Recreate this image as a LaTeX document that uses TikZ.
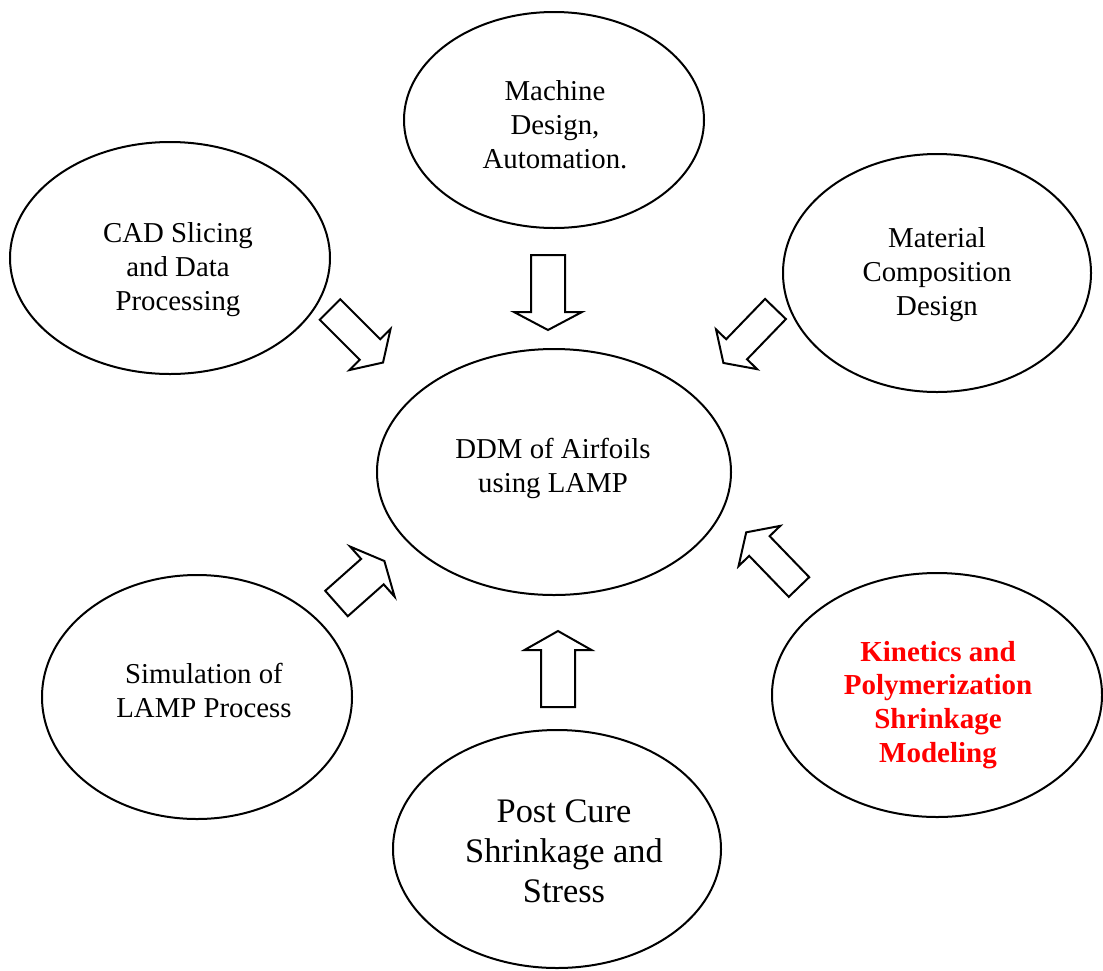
\documentclass[tikz,border=0pt]{standalone}
\usepackage{fontspec}
\setmainfont{Liberation Serif}
\usetikzlibrary{shapes.geometric}
\tikzset{
  elli/.style={draw, ellipse, line width=1pt, inner sep=0pt},
  lbl/.style={align=center, font=\fontsize{14.4}{17}\selectfont, inner sep=0pt},
  biglbl/.style={align=center, font=\fontsize{17.2}{20}\selectfont, inner sep=0pt},
  redlbl/.style={align=center, font=\fontsize{14.5}{16.9}\selectfont\bfseries, text=red, inner sep=0pt},
  barrow/.style={draw, line width=1pt, line join=miter, fill=white},
}
% #1 base coordinate, #2 angle, #3 shaft length, #4 half shaft width, #5 half head width, #6 head length
\newcommand\blockarrow[6]{%
  \draw[barrow, shift={(#1)}, rotate=#2]
    (0,-#4) -- (#3,-#4) -- (#3,-#5) -- ({#3+#6},0) -- (#3,#5) -- (#3,#4) -- (0,#4) -- cycle;}
\begin{document}
\begin{tikzpicture}[x=0.5pt,y=-0.5pt]
\useasboundingbox (0,0) rectangle (1103,970);
% ellipses (size in pt = diameter in px / 2)
\node[elli, minimum width=150pt, minimum height=108pt] (machine) at (554,120) {};
\node[elli, minimum width=160pt, minimum height=116pt] (cad) at (170,258) {};
\node[elli, minimum width=154pt, minimum height=119pt] (material) at (937,273) {};
\node[elli, minimum width=177pt, minimum height=123pt] (ddm) at (554,472) {};
\node[elli, minimum width=155pt, minimum height=122pt] (sim) at (197,697) {};
\node[elli, minimum width=164pt, minimum height=119pt] (post) at (557,849) {};
\node[elli, minimum width=165pt, minimum height=122pt] (kin) at (937,695) {};
% labels
\node[lbl] (machinet) at (555,125) {Machine\\Design,\\Automation.};
\node[lbl] (cadt) at (178,270) {CAD Slicing\\and Data\\Processing};
\node[lbl] (materialt) at (937,275) {Material\\Composition\\Design};
\node[lbl] (ddmt) at (553,468) {DDM of Airfoils\\using LAMP};
\node[lbl] (simt) at (204,690) {Simulation of\\LAMP Process};
\node[biglbl] (postt) at (564,851) {Post Cure\\Shrinkage and\\Stress};
\node[redlbl] (kint) at (938,705) {Kinetics and\\Polymerization\\Shrinkage\\Modeling};
% arrow base points
\coordinate (a1) at (548,255);
\coordinate (a2) at (330,309.5);
\coordinate (a3) at (775.5,309);
\coordinate (a4) at (336.5,603.5);
\coordinate (a5) at (558,707);
\coordinate (a6) at (799,587);
\blockarrow{a1}{-90}{57}{17}{34}{18}
\blockarrow{a2}{-45}{56.6}{14.5}{29}{18.4}
\blockarrow{a3}{-134}{56}{14.5}{28.6}{19}
\blockarrow{a4}{41.6}{48}{17}{33.5}{16}
\blockarrow{a5}{90}{57}{17}{33.5}{19}
\blockarrow{a6}{134}{57}{14.2}{29}{19}
\end{tikzpicture}
\end{document}
